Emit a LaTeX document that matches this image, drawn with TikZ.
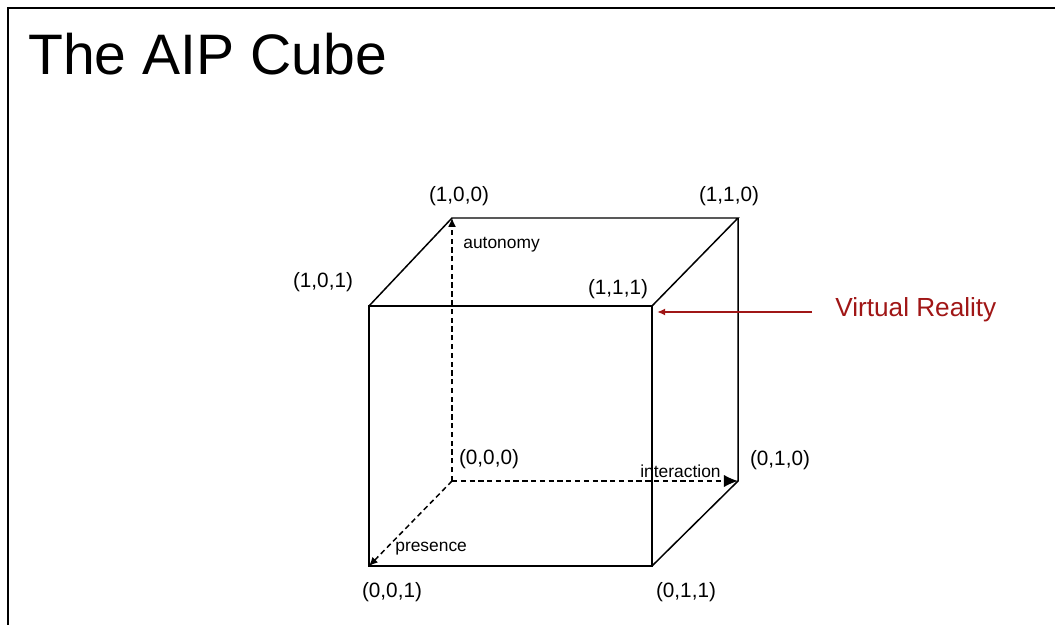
\documentclass[tikz,border=0pt]{standalone}
\usepackage{fontspec}
\setmainfont{Liberation Sans}
\usetikzlibrary{arrows.meta}
\definecolor{vrred}{RGB}{160,22,22}

\begin{document}
\begin{tikzpicture}[x=0.02cm,y=-0.02cm,
  edge/.style={line width=0.85pt},
  axis/.style={line width=0.85pt,dash pattern=on 3pt off 2pt,-{Latex[length=5pt,width=4.5pt]}},
  corner/.style={inner sep=0pt,font=\fontsize{11.8}{14}\selectfont},
  axislabel/.style={inner sep=0pt,font=\fontsize{9.9}{12}\selectfont}]
  \useasboundingbox (0,0) rectangle (1055,625);
  % frame of the slide
  \draw[line width=1.3pt] (8,625) -- (8,8) -- (1055,8);
  \node[anchor=base west,inner sep=0pt,font=\fontsize{32.5}{38}\selectfont] (title) at (28,75) {The AIP Cube};

  % corners of the cube
  \coordinate (c000) at (452,481);
  \coordinate (c010) at (738,481);
  \coordinate (c001) at (369,566);
  \coordinate (c011) at (652,566);
  \coordinate (c100) at (452,218);
  \coordinate (c110) at (738,218);
  \coordinate (c101) at (369,306);
  \coordinate (c111) at (652,306);

  % solid edges
  \draw[edge] (c101) -- (c111) -- (c011) -- (c001) -- cycle;
  \draw[edge] (c101) -- (c100) -- (c110) -- (c111);
  \draw[edge] (c110) -- (c010) -- (c011);

  % axes
  \draw[axis] (c000) -- (c100);
  \draw[axis,-{Latex[length=8pt,width=7pt]}] (c000) -- (c010);
  \draw[axis] (c000) -- (c001);

  % corner labels
  \node[corner] (l100) at (459,196) {(1,0,0)};
  \node[corner] (l110) at (729,196) {(1,1,0)};
  \node[corner] (l101) at (323,282) {(1,0,1)};
  \node[corner] (l111) at (618,289) {(1,1,1)};
  \node[corner] (l000) at (489,459) {(0,0,0)};
  \node[corner] (l010) at (780,460) {(0,1,0)};
  \node[corner] (l001) at (392,592) {(0,0,1)};
  \node[corner] (l011) at (686,592) {(0,1,1)};

  \node[axislabel,anchor=west] (autonomy) at (463,245) {autonomy};
  \node[axislabel,anchor=west] (interaction) at (640,471) {interaction};
  \node[axislabel,anchor=west] (presence) at (395,549) {presence};

  % virtual reality
  \node[anchor=west,inner sep=0pt,text=vrred,font=\fontsize{14.9}{18}\selectfont] (vr) at (835,310) {Virtual Reality};
  \coordinate (vrtail) at (812,312);
  \draw[vrred,line width=0.7pt,-{Latex[length=4.5pt,width=4pt]}] (vrtail) -- ([xshift=3] c111 |- vrtail);
\end{tikzpicture}
\end{document}
